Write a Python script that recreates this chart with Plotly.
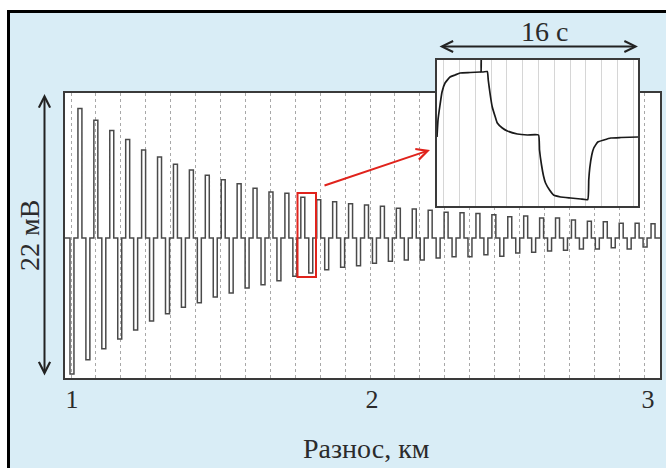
import plotly.graph_objects as go

W, H = 666, 468

# ---------------- data ----------------
# positive / negative pulse amplitudes (mV) per period along the profile
pos_peaks_mv = [10.0, 9.1, 8.3, 7.6, 6.8, 6.25, 5.7, 5.25, 4.85, 4.5, 4.2, 3.85,
                3.55, 3.45, 3.15, 2.95, 2.8, 2.65, 2.55, 2.45, 2.3, 2.25, 2.15,
                2.0, 1.95, 1.9, 1.8, 1.65, 1.7, 1.55, 1.55, 1.4, 1.3, 1.25,
                1.15, 1.15, 1.1]
neg_peaks_mv = [-10.5, -9.4, -8.55, -7.8, -7.1, -6.4, -5.85, -5.35, -5.0, -4.55,
                -4.25, -3.85, -3.6, -3.3, -2.95, -2.7, -2.45, -2.25, -2.15, -1.95,
                -1.8, -1.7, -1.7, -1.55, -1.45, -1.45, -1.3, -1.4, -1.15, -1.1,
                -1.0, -0.95, -0.85, -0.85, -0.75, -0.85, -0.7]
X_RANGE_KM = [0.9799, 2.9699]
FIRST_PULSE_KM = 0.99657        # start of first (negative) pulse
SEG_KM = 0.013311               # 4 s segment expressed in km of profile
x_tick_vals = [1.0033, 2.0067, 2.93]
x_tick_text = ["1", "2", "3"]
grid_km = [1 + k / 12 for k in range(24)]

# inset: one 16 s period (time s, relative signal)
inset_t = [0.0, 0.08, 0.24, 0.4, 0.64, 1.04, 1.44, 1.84, 2.64, 3.44, 3.5, 3.52,
           3.54, 4.0, 4.08, 4.24, 4.4, 4.64, 4.8, 5.2, 5.6, 6.4, 7.2, 8.08,
           8.16, 8.32, 8.48, 8.64, 8.96, 9.28, 9.84, 10.64, 11.44, 12.0, 12.08,
           12.16, 12.32, 12.48, 12.8, 13.28, 13.84, 14.64, 16.0]
inset_v = [-0.1, 1.6, 3.1, 4.4, 5.3, 5.9, 6.1, 6.3, 6.35, 6.4, 6.4, 7.6,
           6.4, 6.45, 5.6, 4.1, 2.9, 1.9, 1.3, 0.8, 0.5, 0.2, 0.1, 0.1,
           -1.4, -2.9, -4.0, -4.7, -5.4, -5.9, -6.1, -6.2, -6.3, -6.35, -4.4,
           -3.2, -1.9, -1.2, -0.6, -0.4, -0.2, -0.15, -0.1]

# build stepped main signal: negative pulse, zero, positive pulse, zero
xs = [X_RANGE_KM[0]]
ys = [0.0]
seg_start = FIRST_PULSE_KM
for neg, pos in zip(neg_peaks_mv, pos_peaks_mv):
    for v in (neg, 0.0, pos, 0.0):
        xs.append(seg_start)
        ys.append(v)
        seg_start += SEG_KM
xs.append(X_RANGE_KM[1])
ys.append(0.0)


def px(x):
    return x / W


def py(y):
    return 1 - y / H


SERIF = "Liberation Serif"
TXT = "#2b2b2b"
BORDER = "#3a3a3a"

fig = go.Figure()
fig.add_trace(go.Scatter(x=xs, y=ys, mode="lines", xaxis="x", yaxis="y",
                         line=dict(color="#4a4a4a", width=1.5, shape="hv"),
                         hoverinfo="skip"))
fig.add_trace(go.Scatter(x=inset_t, y=inset_v, mode="lines", xaxis="x2", yaxis="y2",
                         line=dict(color="#1a1a1a", width=1.7, shape="spline",
                                   smoothing=0.4),
                         hoverinfo="skip"))

fig.update_layout(
    width=W, height=H, margin=dict(l=0, r=0, t=0, b=0),
    paper_bgcolor="rgb(217,237,246)", plot_bgcolor="white", showlegend=False,
    xaxis=dict(domain=[px(65), px(660)], range=X_RANGE_KM, anchor="y",
               showline=True, mirror=True, linecolor=BORDER, linewidth=2,
               showgrid=False, zeroline=False, ticks="",
               tickmode="array", tickvals=x_tick_vals, ticktext=x_tick_text,
               ticklabelstandoff=-3,
               tickfont=dict(family=SERIF, size=26, color=TXT),
               minor=dict(tickmode="array", tickvals=grid_km, showgrid=True,
                          griddash="dot", gridcolor="#a8a8a8", gridwidth=1,
                          ticks="")),
    yaxis=dict(domain=[py(378), py(93)], range=[-10.81, 11.20], anchor="x",
               showline=True, mirror=True, linecolor=BORDER, linewidth=2,
               showgrid=False, zeroline=False, showticklabels=False, ticks=""),
    xaxis2=dict(domain=[px(437), px(638)], range=[0, 16], anchor="y2",
                showline=True, mirror=True, linecolor=BORDER, linewidth=2,
                showgrid=True, gridcolor="#d6d6d6", gridwidth=1,
                tick0=0.55, dtick=1.255, showticklabels=False,
                zeroline=False, ticks=""),
    yaxis2=dict(domain=[py(206), py(60)], range=[-7.0, 7.6], anchor="x2",
                showline=True, mirror=True, linecolor=BORDER, linewidth=2,
                showgrid=False, zeroline=False, showticklabels=False, ticks=""),
)

shapes = [
    # white page margin outside the frame
    dict(type="rect", xref="paper", yref="paper", x0=0, x1=1, y0=py(10), y1=1,
         fillcolor="white", line=dict(width=0), layer="below"),
    dict(type="rect", xref="paper", yref="paper", x0=0, x1=px(7), y0=0, y1=1,
         fillcolor="white", line=dict(width=0), layer="below"),
    # black frame
    dict(type="rect", xref="paper", yref="paper", x0=px(8.5), x1=1.2,
         y0=-0.2, y1=py(11.5), line=dict(color="black", width=3),
         fillcolor="rgba(0,0,0,0)", layer="above"),
    # white background of the inset (covers main plot behind it)
    dict(type="rect", xref="x2", yref="y2", x0=0, x1=16, y0=-7.0, y1=7.6,
         fillcolor="white", line=dict(width=0), layer="below"),
    # red selection box
    dict(type="rect", xref="paper", yref="paper", x0=px(297.5), x1=px(316),
         y0=py(277), y1=py(193), line=dict(color="#e0231c", width=2),
         fillcolor="rgba(0,0,0,0)", layer="above"),
]
fig.update_layout(shapes=shapes)

annotations = [
    # vertical double arrow (22 mV)
    dict(xref="paper", yref="paper", x=px(44.5), y=py(94), ax=0, ay=283,
         axref="pixel", ayref="pixel", text="", showarrow=True,
         arrowside="end+start", arrowhead=5, startarrowhead=5,
         arrowsize=1.1, startarrowsize=1.1, arrowwidth=2, arrowcolor="#222"),
    # horizontal double arrow (16 s)
    dict(xref="paper", yref="paper", x=px(638), y=py(46.5), ax=-200, ay=0,
         axref="pixel", ayref="pixel", text="", showarrow=True,
         arrowside="end+start", arrowhead=5, startarrowhead=5,
         arrowsize=1.1, startarrowsize=1.1, arrowwidth=2, arrowcolor="#222"),
    # red arrow to the inset
    dict(xref="paper", yref="paper", x=px(430), y=py(150), ax=-107, ay=36,
         axref="pixel", ayref="pixel", text="", showarrow=True,
         arrowhead=5, arrowsize=1.1, arrowwidth=2, arrowcolor="#e0231c"),
    dict(xref="paper", yref="paper", x=px(544), y=py(32), text="16 с",
         showarrow=False, font=dict(family=SERIF, size=28, color=TXT),
         xanchor="center", yanchor="middle"),
    dict(xref="paper", yref="paper", x=px(29), y=py(235), text="22 мВ",
         showarrow=False, textangle=-90,
         font=dict(family=SERIF, size=28, color=TXT),
         xanchor="center", yanchor="middle"),
    dict(xref="paper", yref="paper", x=px(366), y=py(448), text="Разнос, км",
         showarrow=False, font=dict(family=SERIF, size=28, color=TXT),
         xanchor="center", yanchor="middle"),
]
fig.update_layout(annotations=annotations)

fig.write_html("out.html")
